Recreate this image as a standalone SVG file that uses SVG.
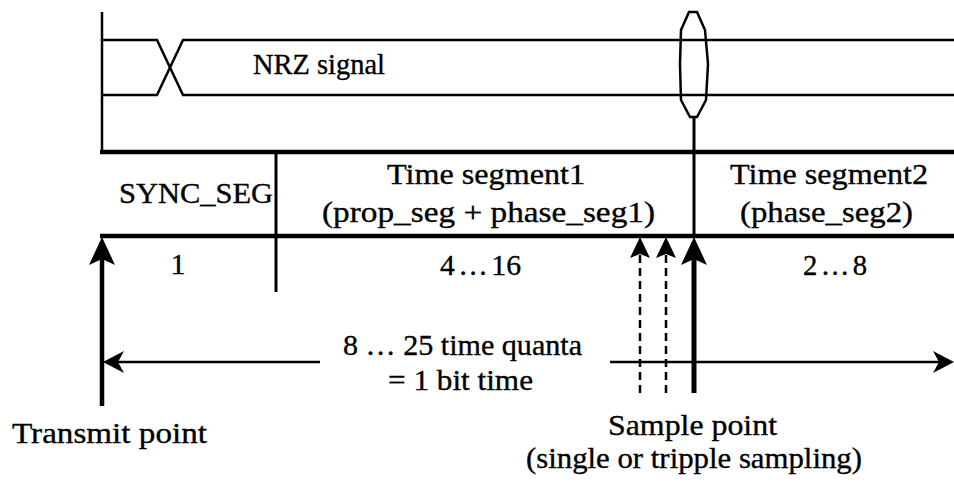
<svg xmlns="http://www.w3.org/2000/svg" width="954" height="485" viewBox="0 0 954 485">
<style>
.t{font-family:'Liberation Serif','Times New Roman',serif;fill:#000;font-size:30px;stroke:#000;stroke-width:0.35px}
.l{stroke:#000;fill:none;stroke-linecap:butt}
.th{stroke-width:2.5}
.bk{stroke-width:4.5}
.ds{stroke-width:2.5;stroke-dasharray:8 5}
.head{fill:#000;stroke:none}
.ws{word-spacing:-4px}
</style>
<rect width="954" height="485" fill="#fff"/>
<g id="signal">
<line class="l th" x1="102" y1="12" x2="102" y2="152"/>
<polyline class="l th" points="102,40 157,40 183,95 954,95"/>
<polyline class="l th" points="102,95 157,95 183,40 954,40"/>
<text class="t" x="253" y="74" font-size="27" textLength="132" lengthAdjust="spacingAndGlyphs">NRZ signal</text>
<path class="l th" d="M689,12 L697,12 L705,30 L708,64 L706,100 L697,117 L690,117 L681,100 L680,64 L681,30 Z"/>
</g>
<g id="band">
<line class="l bk" x1="100" y1="152" x2="954" y2="152"/>
<line class="l bk" x1="100" y1="236" x2="954" y2="236"/>
</g>
<g id="sync_seg">
<line class="l" stroke-width="3" x1="276" y1="152" x2="276" y2="292"/>
<text class="t" x="119" y="203" textLength="154" lengthAdjust="spacingAndGlyphs">SYNC_SEG</text>
<text class="t" x="178" y="274" text-anchor="middle">1</text>
</g>
<g id="time_segment1">
<text class="t" x="387" y="184" textLength="198" lengthAdjust="spacingAndGlyphs">Time segment1</text>
<text class="t" x="322" y="222" textLength="333" lengthAdjust="spacingAndGlyphs">(prop_seg + phase_seg1)</text>
<text class="t ws" x="440" y="275" textLength="81" lengthAdjust="spacingAndGlyphs">4 … 16</text>
</g>
<g id="time_segment2">
<line class="l" stroke-width="3" x1="694" y1="117" x2="694" y2="236"/>
<text class="t" x="730" y="184" textLength="198" lengthAdjust="spacingAndGlyphs">Time segment2</text>
<text class="t" x="740" y="222" textLength="173" lengthAdjust="spacingAndGlyphs">(phase_seg2)</text>
<text class="t ws" x="803" y="275" textLength="64" lengthAdjust="spacingAndGlyphs">2 … 8</text>
</g>
<g id="connectors">
<line class="l bk" x1="102" y1="250" x2="102" y2="406" stroke-linecap="round"/>
<path class="head" d="M102,237 L115,265 L102,259 L89,265 Z"/>
<line class="l ds" x1="640" y1="255" x2="640" y2="396"/>
<path class="head" d="M640,237 L650,258 L640,254 L630,258 Z"/>
<line class="l ds" x1="666" y1="255" x2="666" y2="396"/>
<path class="head" d="M666,237 L676,258 L666,254 L656,258 Z"/>
<line class="l" stroke-width="5" x1="694" y1="250" x2="694" y2="393" stroke-linecap="round"/>
<path class="head" d="M694,237 L707,265 L694,259 L681,265 Z"/>
<line class="l th" x1="115" y1="362" x2="320" y2="362"/>
<path class="head" d="M103,362 L124,351 L118,362 L124,373 Z"/>
<line class="l th" x1="610" y1="362" x2="940" y2="362"/>
<path class="head" d="M954,362 L933,351 L939,362 L933,373 Z"/>
</g>
<g id="labels">
<text class="t" x="343" y="355" textLength="239" lengthAdjust="spacingAndGlyphs">8 … 25 time quanta</text>
<text class="t" x="388" y="390" textLength="145" lengthAdjust="spacingAndGlyphs">= 1 bit time</text>
<text class="t" x="12" y="443" textLength="195" lengthAdjust="spacingAndGlyphs">Transmit point</text>
<text class="t" x="608" y="435" textLength="169" lengthAdjust="spacingAndGlyphs">Sample point</text>
<text class="t" x="526" y="468" textLength="336" lengthAdjust="spacingAndGlyphs">(single or tripple sampling)</text>
</g>
</svg>
